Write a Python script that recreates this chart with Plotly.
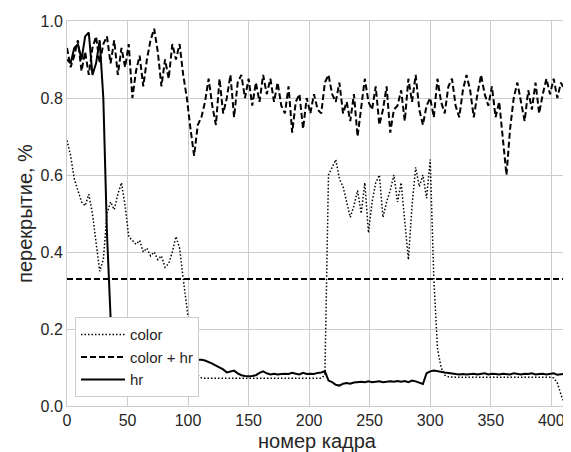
import plotly.graph_objects as go

# frame numbers (every 3rd frame)
frames = list(range(0, 412, 3))

color_vals = [
    0.69, 0.65, 0.59, 0.56, 0.53, 0.52, 0.55, 0.50, 0.43, 0.35,
    0.38, 0.50, 0.53, 0.51, 0.55, 0.58, 0.52, 0.44, 0.43, 0.42,
    0.43, 0.40, 0.41, 0.39, 0.40, 0.38, 0.39, 0.36, 0.37, 0.40,
    0.44, 0.41, 0.33, 0.26, 0.18, 0.11, 0.08, 0.073, 0.072, 0.072,
    0.072, 0.072, 0.072, 0.072, 0.072, 0.072, 0.072, 0.072, 0.072, 0.072,
    0.072, 0.072, 0.072, 0.072, 0.072, 0.072, 0.072, 0.072, 0.072, 0.072,
    0.072, 0.072, 0.072, 0.072, 0.072, 0.072, 0.072, 0.072, 0.072, 0.072,
    0.072, 0.08, 0.60, 0.62, 0.64, 0.59, 0.57, 0.53, 0.49, 0.52,
    0.56, 0.50, 0.58, 0.45, 0.53, 0.58, 0.60, 0.49, 0.53, 0.56,
    0.60, 0.53, 0.58, 0.48, 0.38, 0.52, 0.62, 0.57, 0.60, 0.54,
    0.64, 0.33, 0.15, 0.10, 0.08, 0.076, 0.075, 0.075, 0.075, 0.075,
    0.075, 0.075, 0.075, 0.075, 0.075, 0.075, 0.075, 0.075, 0.075, 0.075,
    0.075, 0.075, 0.075, 0.075, 0.075, 0.075, 0.075, 0.075, 0.075, 0.075,
    0.075, 0.075, 0.075, 0.075, 0.073, 0.06, 0.03, 0.005,
]

color_hr_vals = [
    0.93, 0.88, 0.91, 0.95, 0.87, 0.92, 0.86, 0.93, 0.96, 0.89,
    0.94, 0.96, 0.89, 0.95, 0.86, 0.93, 0.88, 0.94, 0.80, 0.87,
    0.91, 0.83, 0.90, 0.95, 0.98, 0.92, 0.83, 0.90, 0.85, 0.94,
    0.90, 0.94, 0.86, 0.80, 0.72, 0.65, 0.73, 0.75, 0.79, 0.85,
    0.78, 0.73, 0.85, 0.76, 0.80, 0.86, 0.75, 0.84, 0.86, 0.80,
    0.85, 0.78, 0.84, 0.79, 0.86, 0.81, 0.85, 0.79, 0.84, 0.78,
    0.76, 0.83, 0.71, 0.79, 0.81, 0.72, 0.80, 0.76, 0.81, 0.77,
    0.76, 0.84, 0.86, 0.81, 0.79, 0.84, 0.76, 0.79, 0.74, 0.81,
    0.70, 0.77, 0.85, 0.79, 0.77, 0.83, 0.73, 0.77, 0.83, 0.71,
    0.77, 0.78, 0.82, 0.74, 0.85, 0.79, 0.86, 0.77, 0.73, 0.78,
    0.80, 0.75, 0.85, 0.79, 0.76, 0.83, 0.85, 0.78, 0.75, 0.82,
    0.86, 0.82, 0.75, 0.81, 0.86, 0.81, 0.78, 0.83, 0.75, 0.79,
    0.70, 0.60, 0.72, 0.80, 0.84, 0.79, 0.74, 0.82, 0.77, 0.84,
    0.76, 0.81, 0.85, 0.81, 0.85, 0.80, 0.84, 0.82,
]

hr_vals = [
    0.90, 0.89, 0.93, 0.94, 0.90, 0.96, 0.97, 0.86, 0.89, 0.95,
    0.80, 0.45, 0.23, 0.17, 0.16, 0.155, 0.15, 0.145, 0.14, 0.14,
    0.14, 0.135, 0.135, 0.13, 0.13, 0.13, 0.125, 0.125, 0.125, 0.12,
    0.12, 0.12, 0.12, 0.12, 0.12, 0.12, 0.12, 0.12, 0.118, 0.115,
    0.11, 0.105, 0.10, 0.095, 0.087, 0.09, 0.092, 0.085, 0.08, 0.078,
    0.077, 0.078, 0.08, 0.086, 0.09, 0.085, 0.082, 0.084, 0.082, 0.083,
    0.084, 0.083, 0.086, 0.084, 0.082, 0.086, 0.083, 0.084, 0.083, 0.086,
    0.087, 0.09, 0.066, 0.062, 0.055, 0.053, 0.058, 0.06, 0.058, 0.061,
    0.062, 0.063, 0.062, 0.064, 0.062, 0.063, 0.064, 0.062, 0.063, 0.064,
    0.063, 0.065, 0.063, 0.065, 0.062, 0.066, 0.064, 0.06, 0.057, 0.085,
    0.09, 0.092, 0.09, 0.088, 0.087, 0.086, 0.084, 0.083, 0.082, 0.083,
    0.082, 0.083, 0.084, 0.082, 0.083, 0.085, 0.082, 0.084, 0.083, 0.082,
    0.084, 0.083, 0.082, 0.085, 0.083, 0.082, 0.084, 0.083, 0.085, 0.082,
    0.083, 0.084, 0.082, 0.083, 0.085, 0.081, 0.083, 0.084,
]

threshold = 0.33
x_ticks = [0, 50, 100, 150, 200, 250, 300, 350, 400]
y_ticks = [0.0, 0.2, 0.4, 0.6, 0.8, 1.0]
series_names = ["color", "color + hr", "hr"]

assert len(color_vals) == len(frames) == len(color_hr_vals) == len(hr_vals)

FONT = "Liberation Sans, Arial, sans-serif"
GRID = "#cccccc"

fig = go.Figure()
fig.add_trace(go.Scatter(x=frames, y=color_vals, mode="lines", name=series_names[0],
                         line=dict(color="black", width=1.5, dash="1.5px,2px")))
fig.add_trace(go.Scatter(x=frames, y=color_hr_vals, mode="lines", name=series_names[1],
                         line=dict(color="black", width=2, dash="6px,3px")))
fig.add_trace(go.Scatter(x=frames, y=hr_vals, mode="lines", name=series_names[2],
                         line=dict(color="black", width=2)))
fig.add_hline(y=threshold, line=dict(color="black", width=2, dash="6px,3px"))

# the page body has an 8px margin, so the figure is 8px smaller than the window
fig.update_layout(
    width=563, height=444,
    margin=dict(l=59, r=4, t=13, b=46),
    plot_bgcolor="white", paper_bgcolor="white",
    font=dict(family=FONT, size=16, color="#262626"),
    showlegend=True,
    legend=dict(x=0.016, y=0.023, xanchor="left", yanchor="bottom",
                bgcolor="white", bordercolor=GRID, borderwidth=1,
                font=dict(size=15, color="#262626"), traceorder="normal",
                itemwidth=44),
    xaxis=dict(range=[0, 413], tickvals=x_ticks, showgrid=True, gridcolor=GRID,
               gridwidth=1, zeroline=False, showline=True, linecolor=GRID, mirror=True,
               ticks="", automargin=False,
               title=dict(text="номер кадра", font=dict(size=20), standoff=9)),
    yaxis=dict(range=[0, 1], tickvals=y_ticks, tickformat=".1f", showgrid=True,
               gridcolor=GRID, gridwidth=1, zeroline=False, showline=True, linecolor=GRID,
               mirror=True, ticks="", automargin=False,
               title=dict(text="перекрытие, %", font=dict(size=20), standoff=2)),
)

fig.write_html("out.html")
